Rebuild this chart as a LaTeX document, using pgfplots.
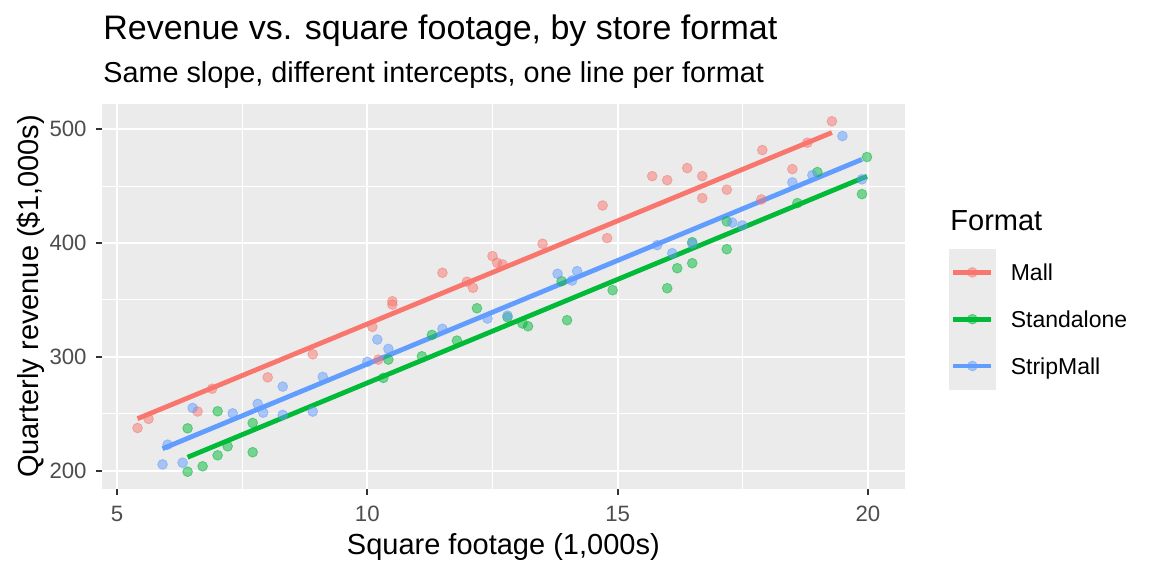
\documentclass[border=0pt]{standalone}
\usepackage{fontspec}
\setmainfont{Liberation Sans}
\usepackage{pgfplots}
\pgfplotsset{compat=1.18}
\usepackage{pgfplotstable}
\definecolor{mallc}{HTML}{F8766D}
\definecolor{standc}{HTML}{00BA38}
\definecolor{stripc}{HTML}{619CFF}
\definecolor{panelg}{HTML}{EBEBEB}
\definecolor{tickc}{HTML}{333333}
\definecolor{ticklab}{HTML}{4D4D4D}

\pgfplotstableread{
x y
5.41 237.5
5.63 245.5
6.61 252.0
6.90 272.0
8.01 282.0
8.91 302.3
10.10 326.4
10.22 297.6
10.50 348.9
10.50 346.0
11.50 373.9
11.99 366.0
12.11 360.7
12.50 388.5
12.59 382.7
12.70 381.2
13.50 399.4
14.70 433.0
14.79 404.3
15.69 458.8
15.99 455.3
16.39 465.9
16.69 458.8
16.69 439.5
17.18 446.9
17.87 438.3
17.89 481.7
18.49 465.0
18.79 488.2
19.28 507.0
}\mall

\pgfplotstableread{
x y
6.41 237.2
6.41 199.1
6.71 203.8
7.01 252.2
7.01 213.5
7.21 221.4
7.71 241.9
7.71 216.2
10.32 281.5
10.42 297.6
11.09 300.5
11.29 319.3
11.79 314.3
12.19 342.7
12.80 334.8
13.10 329.3
13.21 326.9
13.88 366.5
13.99 332.2
14.90 358.6
15.99 360.3
16.19 377.9
16.49 400.8
16.49 382.3
17.18 419.0
17.18 394.6
18.59 435.1
18.99 462.4
19.98 475.6
19.88 443.0
}\stand

\pgfplotstableread{
x y
5.91 205.5
6.01 222.9
6.31 207.0
6.51 255.1
7.31 250.4
7.81 258.7
7.92 251.0
8.31 273.9
8.31 249.0
8.91 251.9
9.11 282.4
10.00 295.6
10.20 315.2
10.42 307.0
11.50 324.6
12.40 333.7
12.80 336.3
13.80 373.0
14.09 367.1
14.19 375.3
15.79 398.2
16.09 391.1
16.49 399.6
17.29 418.0
17.49 415.5
18.49 453.3
18.89 459.7
19.49 494.0
19.88 456.0
}\strip

\begin{document}
\begin{tikzpicture}
\useasboundingbox (-50.85pt,-43.5pt) rectangle (525.15pt,244.5pt);
\begin{axis}[
  at={(0pt,0pt)}, anchor=south west,
  scale only axis, width=401.65pt, height=192.5pt,
  xmin=4.694, xmax=20.74, ymin=183.9, ymax=522.2,
  axis background/.style={fill=panelg},
  axis line style={draw=none},
  xtick={5,10,15,20}, ytick={200,300,400,500},
  minor xtick={7.5,12.5,17.5}, minor ytick={250,350,450},
  grid=both,
  major grid style={white, line width=1.07pt},
  minor grid style={white, line width=0.53pt},
  minor tick length=0pt,
  major tick length=3pt,
  tick align=outside,
  xtick pos=bottom, ytick pos=left,
  tick style={color=tickc, line width=1.07pt},
  /pgf/number format/assume math mode=true,
  ticklabel style={font=\fontsize{11.1}{13}\selectfont, text=ticklab, inner sep=0pt},
  xticklabel style={anchor=north, yshift=-5.5pt},
  yticklabel style={anchor=east, xshift=-4.35pt},
  xlabel={Square footage (1,000s)},
  ylabel={Quarterly revenue (\$1,000s)},
  label style={font=\fontsize{14.5}{16}\selectfont, inner sep=0pt},
  xlabel style={at={(axis description cs:0.5,-0.1714)}, anchor=base},
  ylabel style={at={(axis description cs:-0.0787,0.5)}, anchor=base},
  legend image code/.code={
    \fill[panelg] (0pt,-11.5pt) rectangle (23pt,11.5pt);
    \draw[#1, mark=none, line width=2.4pt] (2pt,0pt) -- (21pt,0pt);
    \draw[#1] plot coordinates {(11.5pt,0pt)};
  },
  legend cell align=left,
  legend style={at={(axis description cs:1,1)}, anchor=north west,
    xshift=22pt, yshift=-72.5pt, draw=none, fill=none,
    inner sep=0pt, outer sep=0pt, row sep=0pt, column sep=7.5pt,
    nodes={inner sep=0pt, text depth=0pt},
    font=\fontsize{11.5}{13}\selectfont},
]
\addplot[only marks, mark=*, mark size=2.45pt, color=mallc, mark options={fill opacity=0.5, draw opacity=0.5, line width=0.4pt}, forget plot] table[x=x,y=y] {\mall};
\addplot[only marks, mark=*, mark size=2.45pt, color=standc, mark options={fill opacity=0.5, draw opacity=0.5, line width=0.4pt}, forget plot] table[x=x,y=y] {\stand};
\addplot[only marks, mark=*, mark size=2.45pt, color=stripc, mark options={fill opacity=0.5, draw opacity=0.5, line width=0.4pt}, forget plot] table[x=x,y=y] {\strip};
\addplot[mallc, line width=2.4pt, forget plot] coordinates {(5.41,245.7) (19.28,497.1)};
\addplot[standc, line width=2.4pt, forget plot] coordinates {(6.41,211.8) (19.98,458.7)};
\addplot[stripc, line width=2.4pt, forget plot] coordinates {(5.91,219.3) (19.88,473.5)};
\addlegendimage{mallc, mark=*, mark size=2.45pt, mark options={fill opacity=0.5, draw opacity=0.5, line width=0.4pt}}
\addlegendentry{Mall}
\addlegendimage{standc, mark=*, mark size=2.45pt, mark options={fill opacity=0.5, draw opacity=0.5, line width=0.4pt}}
\addlegendentry{Standalone}
\addlegendimage{stripc, mark=*, mark size=2.45pt, mark options={fill opacity=0.5, draw opacity=0.5, line width=0.4pt}}
\addlegendentry{StripMall}
\end{axis}
\node[anchor=base west, inner sep=0pt, font=\fontsize{17}{20}\selectfont] at (0.6pt,224.75pt) {Revenue vs. square footage, by store format};
\node[anchor=base west, inner sep=0pt, font=\fontsize{14.4}{17}\selectfont] at (0.6pt,203pt) {Same slope, different intercepts, one line per format};
\node[anchor=base west, inner sep=0pt, font=\fontsize{14.5}{16}\selectfont] at (424.15pt,129pt) {Format};
\end{tikzpicture}
\end{document}
